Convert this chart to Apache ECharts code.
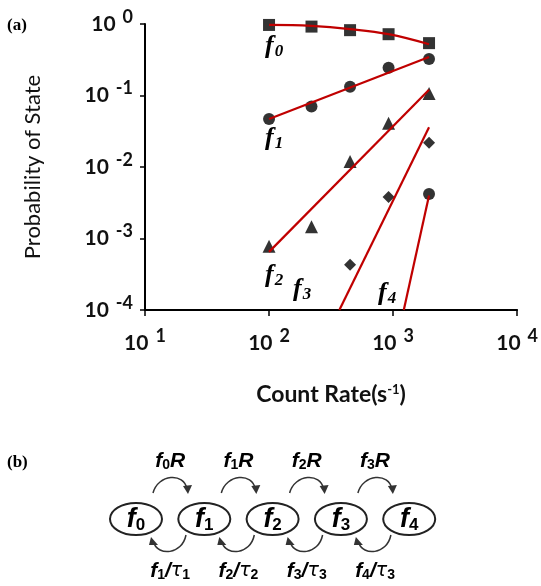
<!DOCTYPE html>
<html><head><meta charset="utf-8">
<script src="https://cdn.jsdelivr.net/npm/echarts@6/dist/echarts.min.js"></script>
<style>html,body{margin:0;padding:0;background:#fff}#c{width:541px;height:586px}</style>
</head><body><div id="c"></div>
<script>
// ---- data ----
const countRate = [100, 220, 450, 920, 1950];
const f0 = [0.97, 0.92, 0.82, 0.72, 0.54];
const f1 = [0.047, 0.070, 0.133, 0.245, 0.324];
const f2 = [7.8e-4, 1.46e-3, 0.0119, 0.0408, 0.107];
const f3Rate = [450, 920, 1950];
const f3 = [4.3e-4, 3.8e-3, 0.0219];
const f4Rate = [1950];
const f4 = [4.2e-3];
// red fit lines
const fit0Rate = [100, 220, 450, 920, 1950];
const fit0 = [0.97, 0.94, 0.85, 0.72, 0.52];
const fit1Rate = [100, 1950];
const fit1 = [0.047, 0.345];
const fit2Rate = [100, 1950];
const fit2 = [6.5e-4, 0.12];
const fit3Rate = [369, 1950];
const fit3 = [1e-4, 0.036];
const fit4Rate = [1220, 1950];
const fit4 = [1e-4, 4.0e-3];
// axis ticks
const xMajor = [10, 100, 1000, 10000];
const yMajor = [1e-4, 1e-3, 1e-2, 1e-1, 1];
// diagram texts
const stateLabels = ['0', '1', '2', '3', '4'];
const forwardLabels = ['0', '1', '2', '3'];
const backwardLabels = [['1', '1'], ['2', '2'], ['3', '3'], ['4', '3']];

function zip(a, b) { return a.map((v, i) => [v, b[i]]); }
const labelFont = 'Lato';
const richTick = {
  b: { fontFamily: labelFont, fontWeight: 'bold', fontSize: 21, color: '#111' },
  e: { fontFamily: labelFont, fontWeight: 'bold', fontSize: 18, color: '#111', padding: [0, 0, 14, 7] }
};
function tickFmt(v) {
  const e = Math.round(Math.log10(v));
  return '{b|10}{e|' + e + '}';
}

const red = '#c00000';
const blk = '#000';
function scatter(data, symbol, size) {
  return { type: 'scatter', data: data, symbol: symbol, symbolSize: size,
    itemStyle: { color: blk }, z: 2, silent: true };
}
function fit(data, smooth) {
  return { type: 'line', data: data, showSymbol: false, smooth: smooth || false,
    lineStyle: { color: red, width: 2.2 }, z: 3, silent: true };
}

const graphics = [];
graphics.push({ type: 'text', left: 7, top: 17, style: { text: '(a)', font: 'bold 17px "Liberation Serif"', fill: '#000' } });
graphics.push({ type: 'text', left: 7, top: 454, style: { text: '(b)', font: 'bold 17px "Liberation Serif"', fill: '#000' } });

const curveLabelPos = [[265, 33], [265, 125], [265, 262], [293, 276], [378, 280]];
const serifRich = {
  f: { fontFamily: 'Liberation Serif', fontStyle: 'italic', fontWeight: 'bold', fontSize: 26, color: '#000' },
  s: { fontFamily: 'Liberation Serif', fontStyle: 'italic', fontWeight: 'bold', fontSize: 17, color: '#000', padding: [10, 0, 0, 1] }
};
stateLabels.forEach((s, i) => {
  graphics.push({ type: 'text', x: curveLabelPos[i][0], y: curveLabelPos[i][1],
    style: { text: '{f|f}{s|' + s + '}', rich: serifRich } });
});

const cx0 = 136, dx = 68.3, cy = 519, rx = 26, ry = 16;
const sansRich = {
  f: { fontFamily: 'Liberation Sans', fontStyle: 'italic', fontWeight: 'bold', fontSize: 27, color: '#111' },
  s: { fontFamily: 'Liberation Sans', fontWeight: 'bold', fontSize: 17, color: '#111', padding: [10, 0, 0, 0] },
  g: { fontFamily: 'Liberation Sans', fontStyle: 'italic', fontWeight: 'bold', fontSize: 21, color: '#111' },
  t: { fontFamily: 'DejaVu Sans', fontStyle: 'italic', fontSize: 19, color: '#111' },
  u: { fontFamily: 'Liberation Sans', fontWeight: 'bold', fontSize: 14, color: '#111', padding: [9, 0, 0, 0] }
};
stateLabels.forEach((s, i) => {
  const cx = cx0 + dx * i;
  graphics.push({ type: 'ellipse', shape: { cx: cx, cy: cy, rx: rx, ry: ry },
    style: { fill: '#fff', stroke: '#222', lineWidth: 2 } });
  graphics.push({ type: 'text', x: cx, y: cy + 1,
    style: { text: '{f|f}{s|' + s + '}', rich: sansRich, align: 'center', verticalAlign: 'middle' } });
});
forwardLabels.forEach((s, i) => {
  const cx = cx0 + dx * i;
  const mid = cx + dx / 2;
  graphics.push({ type: 'bezierCurve', shape: { x1: cx + 17, y1: 493, cpx1: cx + 22, cpy1: 474, cpx2: mid + 14, cpy2: 472, x2: cx + 51, y2: 489 },
    style: { stroke: '#333', lineWidth: 1.5, fill: null } });
  graphics.push({ type: 'polygon', shape: { points: [[cx + 47, 486], [cx + 56, 485], [cx + 52, 494]] }, style: { fill: '#333' } });
  graphics.push({ type: 'text', x: mid, y: 461,
    style: { text: '{g|f}{u|' + s + '}{g|R}', rich: sansRich, align: 'center', verticalAlign: 'middle' } });
  const b = backwardLabels[i];
  graphics.push({ type: 'bezierCurve', shape: { x1: cx + 50, y1: 535, cpx1: cx + 46, cpy1: 555, cpx2: cx + 22, cpy2: 556, x2: cx + 18, y2: 543 },
    style: { stroke: '#333', lineWidth: 1.5, fill: null } });
  graphics.push({ type: 'polygon', shape: { points: [[cx + 13, 545], [cx + 22, 545], [cx + 15, 537]] }, style: { fill: '#333' } });
  graphics.push({ type: 'text', x: mid, y: 571,
    style: { text: '{g|f}{u|' + b[0] + '}{g|/}{t|τ}{u|' + b[1] + '}', rich: sansRich, align: 'center', verticalAlign: 'middle' } });
});

const option = {
  animation: false,
  backgroundColor: '#fff',
  grid: { left: 145, top: 24, right: 19, bottom: 276, containLabel: false },
  xAxis: {
    type: 'log', logBase: 10, min: 10, max: 10000,
    name: 'Count Rate(s{sup|-1})', nameLocation: 'middle', nameGap: 73,
    nameTextStyle: { fontFamily: labelFont, fontWeight: 'bold', fontSize: 23, color: '#111',
      rich: { sup: { fontFamily: labelFont, fontWeight: 'bold', fontSize: 13, color: '#111', padding: [0, 0, 9, 0] } } },
    axisLine: { lineStyle: { color: '#000', width: 2 } },
    axisTick: { show: true, inside: false, length: 6, lineStyle: { color: '#000', width: 1.5 } },
    axisLabel: { customValues: xMajor, formatter: tickFmt, rich: richTick, margin: 17 },
    splitLine: { show: false }, minorTick: { show: false }
  },
  yAxis: {
    type: 'log', logBase: 10, min: 1e-4, max: 1,
    name: 'Probability of State', nameLocation: 'middle', nameGap: 101,
    nameTextStyle: { fontFamily: labelFont, fontSize: 22, color: '#111' },
    axisLine: { lineStyle: { color: '#000', width: 2 } },
    axisTick: { show: true, inside: false, length: 5, lineStyle: { color: '#000', width: 1.5 } },
    axisLabel: { customValues: yMajor, formatter: tickFmt, rich: richTick, margin: 12 },
    splitLine: { show: false }, minorTick: { show: false }
  },
  series: [
    scatter(zip(countRate, f0), 'rect', 12),
    scatter(zip(countRate, f1), 'circle', 12),
    scatter(zip(countRate, f2), 'triangle', 13),
    scatter(zip(f3Rate, f3), 'diamond', 12),
    scatter(zip(f4Rate, f4), 'circle', 12),
    fit(zip(fit0Rate, fit0), 0.4),
    fit(zip(fit1Rate, fit1)),
    fit(zip(fit2Rate, fit2)),
    fit(zip(fit3Rate, fit3)),
    fit(zip(fit4Rate, fit4))
  ],
  graphic: graphics
};
const chart = echarts.init(document.getElementById('c'));
chart.setOption(option);
</script></body></html>
